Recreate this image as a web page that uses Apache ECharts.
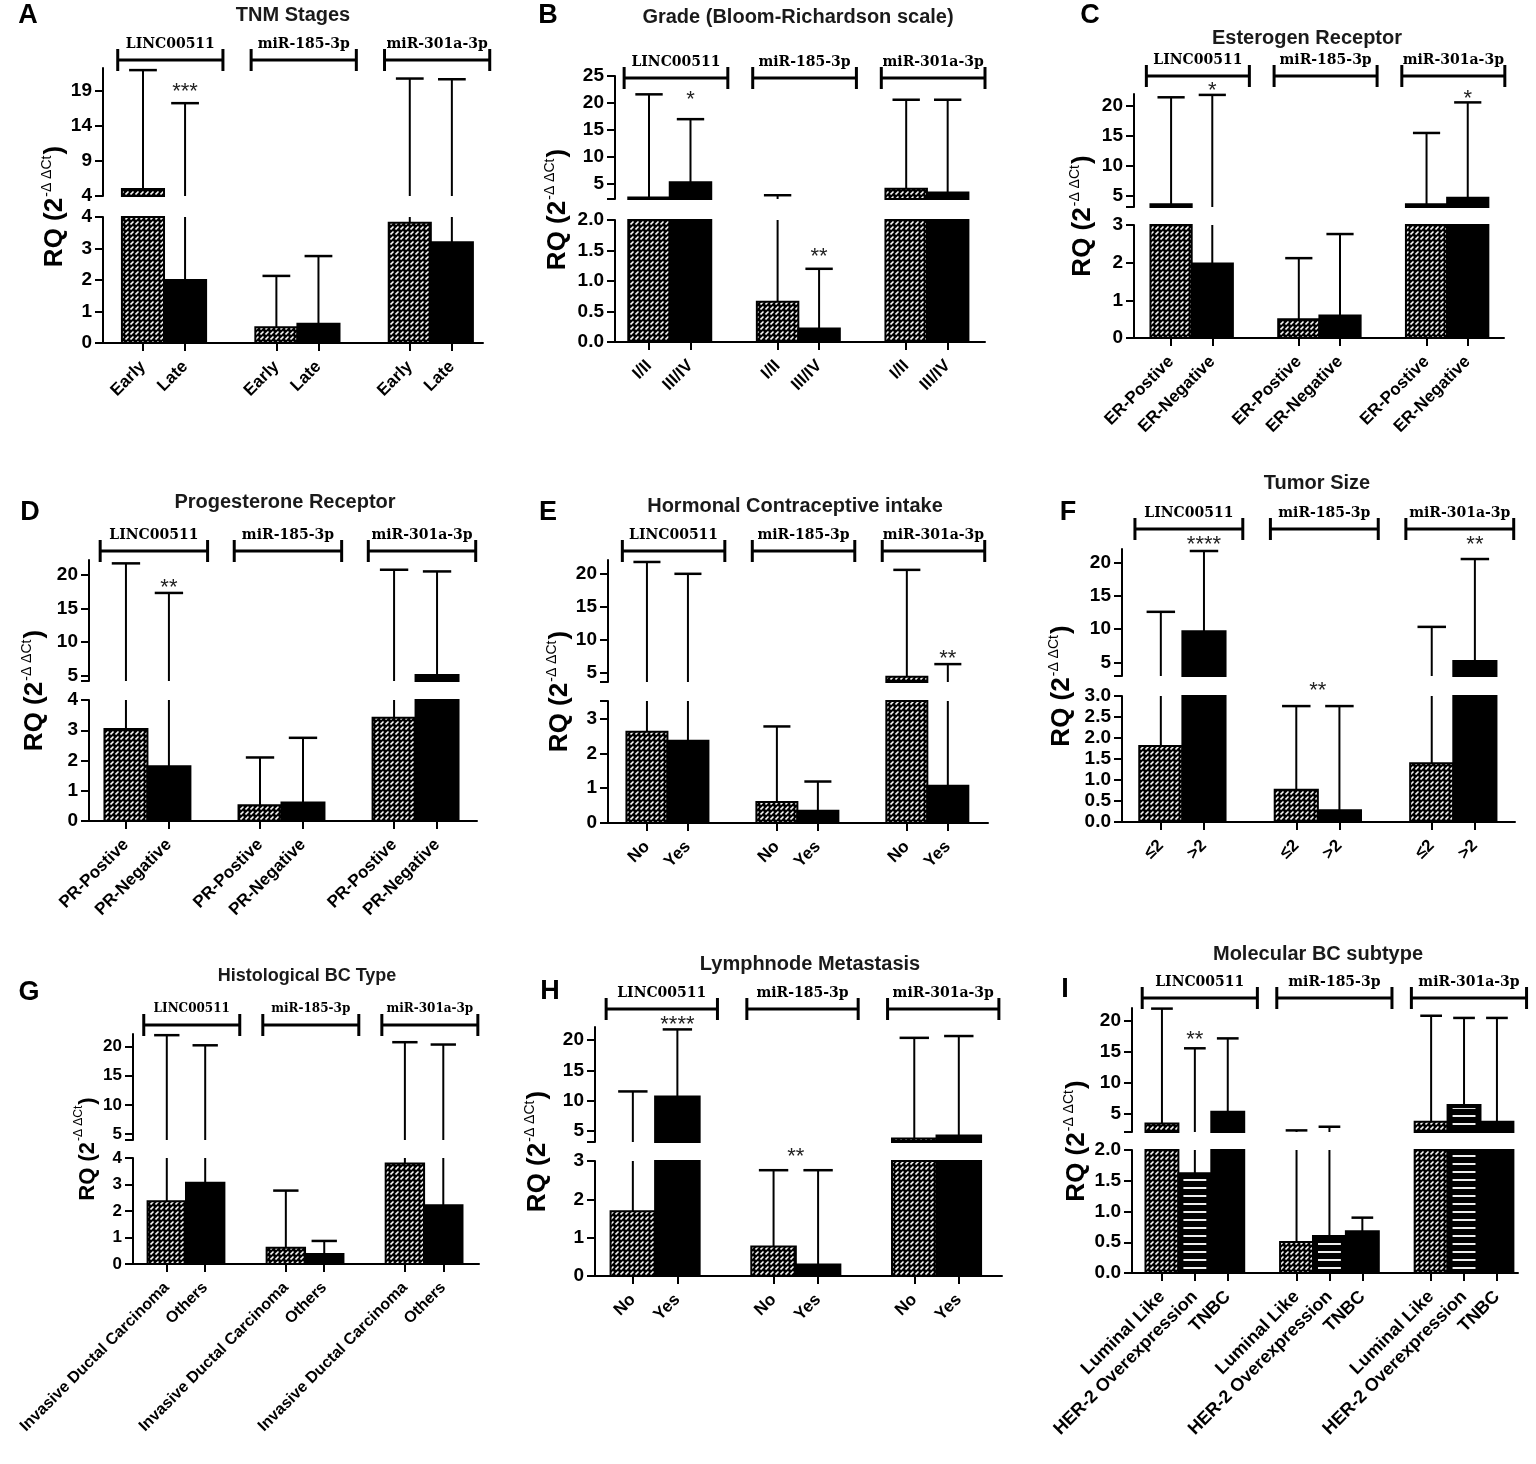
<!DOCTYPE html>
<html>
<head>
<meta charset="utf-8">
<title>RQ of LINC00511, miR-185-3p and miR-301a-3p by clinical features</title>
<script src="https://cdn.jsdelivr.net/npm/echarts@6.0.0/dist/echarts.min.js"></script>
<style>
  html, body { margin: 0; background: #fff; }
  #main { width: 1536px; height: 1464px; }
</style>
</head>
<body>
<div id="main"></div>
<script>
// ---- data ----
var genes = ['LINC00511', 'miR-185-3p', 'miR-301a-3p'];

// A TNM stages
var aCats = ['Early', 'Late'];
var aMean = [5.0, 2.0, 0.50, 0.61, 3.82, 3.20];
var aTop = [21.9, 17.2, 2.13, 2.76, 20.7, 20.6];
var aLowTicks = [0, 1, 2, 3, 4];
var aUpTicks = [4, 9, 14, 19];
var aStars = [[1, 19.1, '***']];

// B grade
var bCats = ['I/II', 'III/IV'];
var bMean = [2.5, 5.3, 0.66, 0.22, 4.1, 3.4];
var bTop = [21.6, 17.0, 2.9, 1.2, 20.6, 20.6];
var bLowTicks = [0, 0.5, 1, 1.5, 2];
var bUpTicks = [5, 10, 15, 20, 25];
var bStars = [[1, 20.9, '*'], [3, 1.43, '**']];

// C estrogen receptor
var cCats = ['ER-Postive', 'ER-Negative'];
var cMean = [3.6, 1.98, 0.50, 0.60, 3.6, 4.7];
var cTop = [21.45, 21.85, 2.12, 2.76, 15.5, 20.6];
var cLowTicks = [0, 1, 2, 3];
var cUpTicks = [5, 10, 15, 20];
var cStars = [[1, 22.9, '*'], [5, 21.5, '*']];

// D progesterone receptor
var dCats = ['PR-Postive', 'PR-Negative'];
var dMean = [3.04, 1.81, 0.52, 0.61, 3.41, 5.1];
var dTop = [21.7, 17.3, 2.1, 2.75, 20.75, 20.5];
var dLowTicks = [0, 1, 2, 3, 4];
var dUpTicks = [5, 10, 15, 20];
var dStars = [[1, 18.3, '**']];

// E hormonal contraceptive intake
var eCats = ['No', 'Yes'];
var eMean = [2.62, 2.36, 0.60, 0.35, 4.34, 1.07];
var eTop = [21.8, 20.0, 2.77, 1.19, 20.6, 6.27];
var eLowTicks = [0, 1, 2, 3];
var eUpTicks = [5, 10, 15, 20];
var eStars = [[5, 7.4, '**']];

// F tumor size
var fCats = ['≤2', '>2'];
var fMean = [1.81, 9.7, 0.77, 0.28, 1.40, 5.25];
var fTop = [12.6, 21.7, 2.76, 2.76, 10.35, 20.5];
var fLowTicks = [0, 0.5, 1, 1.5, 2, 2.5, 3];
var fUpTicks = [5, 10, 15, 20];
var fStars = [[1, 22.95, '****'], [2.5, 3.16, '**'], [5, 22.85, '**']];

// G histological type
var gCats = ['Invasive Ductal Carcinoma', 'Others'];
var gMean = [2.37, 3.07, 0.61, 0.38, 3.79, 2.22];
var gTop = [21.9, 20.17, 2.77, 0.87, 20.7, 20.3];
var gLowTicks = [0, 1, 2, 3, 4];
var gUpTicks = [5, 10, 15, 20];
var gStars = [];

// H lymph node metastasis
var hCats = ['No', 'Yes'];
var hMean = [1.69, 10.66, 0.77, 0.30, 3.7, 4.2];
var hTop = [11.5, 21.8, 2.76, 2.76, 20.4, 20.7];
var hLowTicks = [0, 1, 2, 3];
var hUpTicks = [5, 10, 15, 20];
var hStars = [[1, 22.9, '****'], [2.5, 3.15, '**']];

// I molecular subtype
var iCats = ['Luminal Like', 'HER-2 Overexpression', 'TNBC'];
var iMean = [3.39, 1.62, 5.27, 0.505, 0.60, 0.68, 3.66, 6.34, 3.66];
var iTop = [21.9, 15.5, 17.1, 2.26, 2.85, 0.90, 20.75, 20.4, 20.4];
var iLowTicks = [0, 0.5, 1, 1.5, 2];
var iUpTicks = [5, 10, 15, 20];
var iStars = [[1, 17.1, '**']];

// ---- panel setup: axes ranges and page layout ----
// box = [left, right, upperTop, upperBottom, lowerTop, lowerBottom]
var panels = [
  {id: 'A', title: 'TNM Stages', cats: aCats, mean: aMean, top: aTop, lowTicks: aLowTicks, upTicks: aUpTicks, stars: aStars,
   lowMax: 4, upMin: 4, upMax: 22.2, dec: 0, box: [103, 483, 68, 196, 217, 343], gap: 1.17, pad: [0.95, 0.74],
   brY: 60, titleXY: [293, 15], letterXY: [28, 16], nameX: 55},
  {id: 'B', title: 'Grade (Bloom-Richardson scale)', cats: bCats, mean: bMean, top: bTop, lowTicks: bLowTicks, upTicks: bUpTicks, stars: bStars,
   lowMax: 2, upMin: 2.2, upMax: 25, dec: 1, box: [615, 985, 76, 199, 220, 342], gap: 1.1, pad: [0.82, 0.9],
   brY: 78, titleXY: [798, 17], letterXY: [548, 16], nameX: 558},
  {id: 'C', title: 'Esterogen Receptor', cats: cCats, mean: cMean, top: cTop, lowTicks: cLowTicks, upTicks: cUpTicks, stars: cStars,
   lowMax: 3, upMin: 3.15, upMax: 22, dec: 0, box: [1134, 1504, 94, 207, 225, 338], gap: 1.1, pad: [0.9, 0.88],
   brY: 76, titleXY: [1307, 38], letterXY: [1090, 16], nameX: 1083},
  {id: 'D', title: 'Progesterone Receptor', cats: dCats, mean: dMean, top: dTop, lowTicks: dLowTicks, upTicks: dUpTicks, stars: dStars,
   lowMax: 4, upMin: 4.2, upMax: 22.2, dec: 0, box: [89, 477, 560, 681, 700, 821], gap: 1.12, pad: [0.86, 0.93],
   brY: 551, titleXY: [285, 502], letterXY: [30, 513], nameX: 35},
  {id: 'E', title: 'Hormonal Contraceptive intake', cats: eCats, mean: eMean, top: eTop, lowTicks: eLowTicks, upTicks: eUpTicks, stars: eStars,
   lowMax: 3.5, upMin: 3.55, upMax: 22.1, dec: 0, box: [608, 988, 560, 682, 701, 823], gap: 1.17, pad: [0.95, 0.98],
   brY: 551, titleXY: [795, 506], letterXY: [548, 513], nameX: 560},
  {id: 'F', title: 'Tumor Size', cats: fCats, mean: fMean, top: fTop, lowTicks: fLowTicks, upTicks: fUpTicks, stars: fStars,
   lowMax: 3, upMin: 3.0, upMax: 22, dec: 1, box: [1122, 1515, 549, 676, 696, 822], gap: 1.14, pad: [0.9, 0.93],
   brY: 529, titleXY: [1317, 483], letterXY: [1068, 513], nameX: 1062},
  {id: 'G', title: 'Histological BC Type', cats: gCats, mean: gMean, top: gTop, lowTicks: gLowTicks, upTicks: gUpTicks, stars: gStars,
   lowMax: 4, upMin: 4.0, upMax: 22.1, dec: 0, box: [133, 479, 1034, 1140, 1158, 1264], gap: 1.1, pad: [0.88, 0.93],
   brY: 1025, titleXY: [307, 976], letterXY: [29, 993], nameX: 88, small: true},
  {id: 'H', title: 'Lymphnode Metastasis', cats: hCats, mean: hMean, top: hTop, lowTicks: hLowTicks, upTicks: hUpTicks, stars: hStars,
   lowMax: 3, upMin: 3.1, upMax: 22.2, dec: 0, box: [595, 1002, 1027, 1142, 1161, 1276], gap: 1.16, pad: [0.85, 0.97],
   brY: 1009, titleXY: [810, 964], letterXY: [550, 992], nameX: 538},
  {id: 'I', title: 'Molecular BC subtype', cats: iCats, mean: iMean, top: iTop, lowTicks: iLowTicks, upTicks: iUpTicks, stars: iStars,
   lowMax: 2, upMin: 2.0, upMax: 22, dec: 1, box: [1132, 1518, 1008, 1132, 1150, 1273], gap: 1.09, pad: [0.91, 0.64],
   brY: 998, titleXY: [1318, 954], letterXY: [1065, 990], nameX: 1077, bigLabels: true}
];

var SANS = 'Liberation Sans, Arial, sans-serif';
var SERIF = 'DejaVu Serif, Liberation Serif, serif';

// fill patterns
function hatchCanvas() {
  var c = document.createElement('canvas');
  c.width = 5; c.height = 5;
  var g = c.getContext('2d');
  g.fillStyle = '#000'; g.fillRect(0, 0, 5, 5);
  g.strokeStyle = '#f4f4f4'; g.lineWidth = 1.6;
  g.beginPath(); g.moveTo(0.5, 4.5); g.lineTo(3.5, 1.5); g.stroke();
  return c;
}
function stripeCanvas() {
  var c = document.createElement('canvas');
  c.width = 4; c.height = 8;
  var g = c.getContext('2d');
  g.fillStyle = '#eee'; g.fillRect(0, 3, 4, 2);
  return c;
}
var hatch = {image: hatchCanvas(), repeat: 'repeat'};
var stripes = {image: stripeCanvas(), repeat: 'repeat'};

function barShape(x, y, w, h, kind) {
  if (kind === 1) {
    var kids = [{type: 'rect', shape: {x: x, y: y, width: w, height: h}, style: {fill: '#000', stroke: '#000', lineWidth: 2}}];
    if (h > 8) kids.push({type: 'rect', shape: {x: x + 5, y: y + 3, width: w - 10, height: h - 6}, style: {fill: stripes}});
    return {type: 'group', children: kids};
  }
  return {type: 'rect', shape: {x: x, y: y, width: w, height: h},
          style: {fill: kind === 0 ? hatch : '#000', stroke: '#000', lineWidth: 2}};
}

function barRender(p, part) {
  return function (params, api) {
    var x = api.value(0), v = api.value(1), top = api.value(2), kind = api.value(3);
    var lo = part === 'low' ? 0 : p.upMin;
    var hi = part === 'low' ? p.lowMax : p.upMax;
    var bw = api.size([1, 0])[0];
    var base = api.coord([x, lo]);
    var cx = base[0];
    var kids = [];
    if (v > lo) {
      var yt = api.coord([x, Math.min(v, hi)])[1];
      kids.push(barShape(cx - bw / 2, yt, bw, base[1] - yt, kind));
    }
    var e0 = Math.max(v, lo), e1 = Math.min(top, hi);
    if (e1 > e0) {
      kids.push({type: 'line', shape: {x1: cx, y1: api.coord([x, e0])[1], x2: cx, y2: api.coord([x, e1])[1]},
                 style: {stroke: '#000', lineWidth: 2}});
    }
    if (top >= lo && top <= hi) {
      var yc = api.coord([x, top])[1];
      kids.push({type: 'line', shape: {x1: cx - bw * 0.33, y1: yc, x2: cx + bw * 0.33, y2: yc},
                 style: {stroke: '#000', lineWidth: 2.5}});
    }
    return {type: 'group', children: kids};
  };
}

function starRender(list) {
  return function (params, api) {
    var pt = api.coord([api.value(0), api.value(1)]);
    return {type: 'text', x: pt[0], y: pt[1] + 2,
            style: {text: list[params.dataIndex][2], font: '22px ' + SANS, fill: '#222',
                    align: 'center', verticalAlign: 'middle', textAlign: 'center', textVerticalAlign: 'middle'}};
  };
}

function bracketRender(p, n) {
  var fs = p.small ? 12 : 14;
  return function (params, api) {
    var x0 = api.value(0);
    var xl = api.coord([x0 - 0.6, p.upMin])[0];
    var xr = api.coord([x0 + n - 1 + 0.9, p.upMin])[0];
    var y = p.brY;
    var st = {stroke: '#000', lineWidth: 3};
    return {type: 'group', children: [
      {type: 'line', shape: {x1: xl, y1: y, x2: xr, y2: y}, style: st},
      {type: 'line', shape: {x1: xl, y1: y - 11, x2: xl, y2: y + 11}, style: st},
      {type: 'line', shape: {x1: xr, y1: y - 11, x2: xr, y2: y + 11}, style: st},
      {type: 'text', x: (xl + xr) / 2, y: y - 16,
       style: {text: genes[params.dataIndex], font: 'bold ' + fs + 'px ' + SERIF, fill: '#000',
               align: 'center', verticalAlign: 'middle', textAlign: 'center', textVerticalAlign: 'middle'}}
    ]};
  };
}

var grids = [], xAxes = [], yAxes = [], series = [], texts = [];

panels.forEach(function (p, k) {
  var n = p.cats.length;
  var xs = [], labels = [];
  genes.forEach(function (g, gi) {
    for (var j = 0; j < n; j++) { xs.push(gi * (n + p.gap) + j); labels.push(p.cats[j]); }
  });
  var kinds = n === 3 ? [0, 1, 2] : [0, 2];
  var xMin = -p.pad[0], xMax = xs[xs.length - 1] + p.pad[1];
  var b = p.box;
  var tickFs = p.small ? 17 : 19;
  var labFs = p.small ? 16 : (p.bigLabels ? 18 : 17);
  var lowIdx = grids.length, upIdx = lowIdx + 1;

  grids.push({left: b[0], width: b[1] - b[0], top: b[4], height: b[5] - b[4], containLabel: false, outerBoundsMode: 'none'});
  grids.push({left: b[0], width: b[1] - b[0], top: b[2], height: b[3] - b[2], containLabel: false, outerBoundsMode: 'none'});

  var axisLineStyle = {color: '#000', width: 2};
  xAxes.push({
    gridIndex: lowIdx, type: 'value', min: xMin, max: xMax,
    axisLine: {show: true, onZero: false, lineStyle: axisLineStyle},
    axisTick: {show: true, customValues: xs, length: 8, lineStyle: axisLineStyle},
    axisLabel: {customValues: xs, rotate: 45, margin: 21, color: '#000', fontFamily: SANS, fontSize: labFs, fontWeight: 'bold',
      formatter: function (val) {
        var best = 0;
        xs.forEach(function (x, i) { if (Math.abs(x - val) < Math.abs(xs[best] - val)) best = i; });
        return labels[best];
      }},
    splitLine: {show: false}
  });
  xAxes.push({gridIndex: upIdx, type: 'value', min: xMin, max: xMax, show: false});

  var lowFmt = function (v) { return p.dec ? v.toFixed(p.dec) : String(v); };
  var upFmt = function (v) { return String(v); };
  var lowMarks = p.lowTicks.indexOf(p.lowMax) < 0 ? p.lowTicks.concat([p.lowMax]) : p.lowTicks;
  var upMarks = p.upTicks.indexOf(p.upMin) < 0 ? [p.upMin].concat(p.upTicks) : p.upTicks;
  yAxes.push({
    gridIndex: lowIdx, type: 'value', min: 0, max: p.lowMax,
    axisLine: {show: true, onZero: false, lineStyle: axisLineStyle},
    axisTick: {show: true, customValues: lowMarks, length: 8, lineStyle: axisLineStyle},
    axisLabel: {customValues: p.lowTicks, formatter: lowFmt, margin: 11, color: '#000', fontFamily: SANS, fontSize: tickFs, fontWeight: 'bold'},
    splitLine: {show: false}
  });
  yAxes.push({
    gridIndex: upIdx, type: 'value', min: p.upMin, max: p.upMax,
    axisLine: {show: true, onZero: false, lineStyle: axisLineStyle},
    axisTick: {show: true, customValues: upMarks, length: 8, lineStyle: axisLineStyle},
    axisLabel: {customValues: p.upTicks, formatter: upFmt, margin: 11, color: '#000', fontFamily: SANS, fontSize: tickFs, fontWeight: 'bold'},
    splitLine: {show: false}
  });

  var barData = xs.map(function (x, i) { return [x, p.mean[i], p.top[i], kinds[i % n]]; });
  series.push({type: 'custom', xAxisIndex: lowIdx, yAxisIndex: lowIdx, silent: true, clip: false,
               encode: {x: 0, y: 1}, data: barData, renderItem: barRender(p, 'low')});
  series.push({type: 'custom', xAxisIndex: upIdx, yAxisIndex: upIdx, silent: true, clip: false,
               encode: {x: 0, y: 1}, data: barData, renderItem: barRender(p, 'up')});

  // significance stars: a fractional index sits between two bars
  var starX = function (s) {
    var i0 = Math.floor(s[0]), i1 = Math.ceil(s[0]);
    return xs[i0] + (xs[i1] - xs[i0]) * (s[0] - i0);
  };
  var lowStars = p.stars.filter(function (s) { return s[1] < p.lowMax * 1.2; });
  var upStars = p.stars.filter(function (s) { return s[1] >= p.lowMax * 1.2; });
  if (lowStars.length) series.push({type: 'custom', xAxisIndex: lowIdx, yAxisIndex: lowIdx, silent: true, clip: false,
    encode: {x: 0, y: 1}, data: lowStars.map(function (s) { return [starX(s), s[1]]; }), renderItem: starRender(lowStars)});
  if (upStars.length) series.push({type: 'custom', xAxisIndex: upIdx, yAxisIndex: upIdx, silent: true, clip: false,
    encode: {x: 0, y: 1}, data: upStars.map(function (s) { return [starX(s), s[1]]; }), renderItem: starRender(upStars)});

  // gene brackets above each group
  series.push({type: 'custom', xAxisIndex: upIdx, yAxisIndex: upIdx, silent: true, clip: false,
    encode: {x: 0, y: 1}, data: genes.map(function (g, gi) { return [xs[gi * n], p.upMin]; }), renderItem: bracketRender(p, n)});

  // panel letter, title, y-axis name
  texts.push({type: 'text', x: p.letterXY[0], y: p.letterXY[1],
    style: {text: p.id, font: 'bold 27px ' + SANS, fill: '#000', align: 'center', verticalAlign: 'middle', textAlign: 'center', textVerticalAlign: 'middle'}});
  texts.push({type: 'text', x: p.titleXY[0], y: p.titleXY[1],
    style: {text: p.title, font: 'bold ' + (p.small ? 18 : 20) + 'px ' + SANS, fill: '#1a1a1a', align: 'center', verticalAlign: 'middle', textAlign: 'center', textVerticalAlign: 'middle'}});
  texts.push({type: 'text', x: p.nameX, y: (b[3] + b[4]) / 2, rotation: Math.PI / 2,
    style: {text: '{a|RQ (2}{b|-Δ ΔCt}{a|)}', align: 'center', verticalAlign: 'middle', textAlign: 'center', textVerticalAlign: 'middle',
      rich: {
        a: {fontFamily: SANS, fontWeight: 'bold', fontSize: p.small ? 22 : 26, fill: '#000', color: '#000', lineHeight: 30},
        b: {fontFamily: SANS, fontSize: p.small ? 12 : 14, fill: '#000', color: '#000', verticalAlign: 'top', lineHeight: 30, padding: [0, 1, 12, 1]}
      }}});
});

var chart = echarts.init(document.getElementById('main'));
chart.setOption({
  animation: false,
  backgroundColor: '#fff',
  textStyle: {fontFamily: SANS},
  grid: grids,
  xAxis: xAxes,
  yAxis: yAxes,
  series: series,
  graphic: texts
});
</script>
</body>
</html>
